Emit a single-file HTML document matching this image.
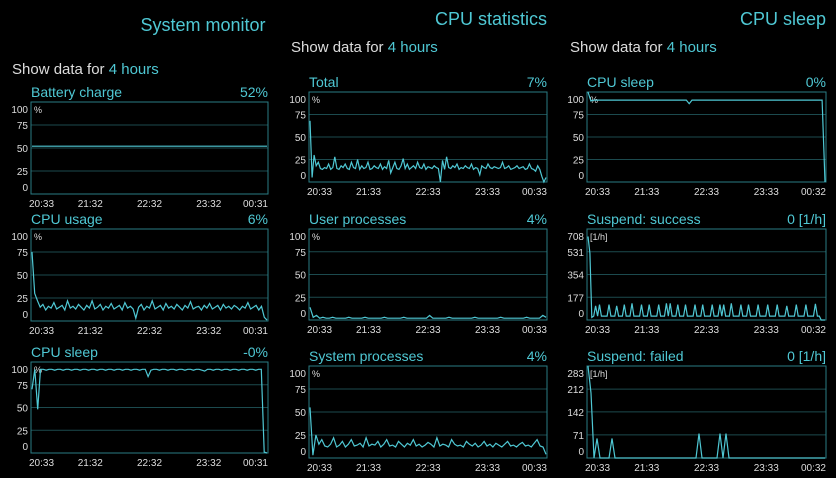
<!DOCTYPE html>
<html><head><meta charset="utf-8"><style>
body{margin:0;background:#000;width:836px;height:478px;overflow:hidden;font-family:"Liberation Sans","DejaVu Sans",sans-serif}
svg{display:block}
</style></head><body>
<svg id="root" width="836" height="478"></svg>
<script>
const cpuUsage=[75,30,22,15,18,12,16,14,20,13,15,17,12,22,14,16,13,18,15,12,17,14,22,13,15,18,12,16,14,19,13,15,17,12,20,14,16,13,3,15,18,12,16,14,22,13,15,17,12,19,14,16,13,18,15,12,17,14,21,13,15,16,12,17,14,19,13,15,17,12,18,14,16,13,17,15,12,16,14,20,13,15,17,12,16,4,1];
const cpuSleep1=[70,92,48,92,92,91,92,92,91,92,92,91,92,92,91,92,92,91,92,92,91,92,92,91,92,92,91,92,92,91,92,92,91,92,92,91,92,92,91,92,92,84,91,92,92,91,92,92,91,92,92,91,92,92,91,92,92,91,92,92,91,90,92,92,91,92,92,91,92,92,91,92,92,91,92,92,91,92,92,91,92,92,1,0];
const battery=[52,52,52,52,52,52,52,52,52,52];
const total=[68,5,30,18,22,15,14,16,15,20,14,16,28,15,14,18,16,20,15,14,22,16,15,25,14,18,15,16,22,14,15,18,16,15,20,14,17,15,24,10,16,22,15,14,18,26,15,20,14,16,18,15,22,16,15,20,14,17,16,15,18,16,15,0,24,14,28,16,15,18,16,20,14,16,15,18,16,15,20,14,16,15,8,18,16,15,20,16,15,17,16,15,16,22,15,16,18,14,15,16,18,15,16,17,14,15,20,15,14,12,18,14,6,0,5];
const userProc=[14,3,5,2,3,2,2,3,2,2,2,2,3,2,2,2,2,3,2,2,2,2,2,3,2,2,2,2,2,3,2,2,2,2,2,2,2,5,2,2,2,2,2,3,2,2,2,2,2,2,2,3,2,2,2,2,2,2,2,3,2,2,2,2,2,2,2,3,2,2,2,2,5,3];
const sysProc=[55,3,25,15,20,13,12,15,22,12,14,18,12,15,20,13,14,16,12,22,13,15,14,18,12,15,20,13,14,12,18,15,12,16,14,20,13,15,12,14,17,15,12,22,13,15,14,12,20,15,13,14,12,18,15,13,16,12,14,18,13,15,12,16,14,12,15,18,13,14,12,15,17,13,14,12,16,20,13,12,4];
const cpuSleep3=[100,90,91,91,91,91,91,91,91,91,91,91,91,91,91,91,91,91,91,91,91,91,91,91,91,91,91,91,91,91,91,91,91,91,91,87,91,91,91,91,91,91,91,91,91,91,91,91,91,91,91,91,91,91,91,91,91,91,91,91,91,91,91,91,91,91,91,91,91,91,91,91,91,91,91,91,91,91,91,91,91,91,0];
const suspOk=[650,520,20,30,110,30,120,30,30,30,30,120,30,30,30,110,30,30,30,120,30,30,30,130,30,30,30,30,120,30,30,30,120,30,30,30,30,120,30,30,30,130,30,130,30,30,30,120,30,30,30,120,30,30,30,30,120,30,30,30,120,30,30,30,30,120,30,30,30,120,30,120,30,30,30,130,30,30,30,30,120,30,30,30,120,30,30,30,30,120,30,30,30,30,120,30,30,30,30,120,30,30,30,30,110,30,30,30,30,120,30,30,30,30,120,30,30,30,30,125,30,30,0,0,0];
const suspFail=[283,200,0,60,0,0,0,0,60,0,0,0,0,0,0,0,0,0,0,0,0,0,0,0,0,0,0,0,0,0,0,0,0,0,0,0,0,75,0,0,0,0,0,0,75,0,75,0,0,0,0,0,0,0,0,0,0,0,0,0,0,0,0,0,0,0,0,0,0,0,0,0,0,0,0,0,0,0,0,0];
const pctTicks=[100,75,50,25,0];
const okTicks=[708,531,354,177,0];
const failTicks=[283,212,142,71,0];
const x1=["20:33","21:32","22:32","23:32","00:31"];
const x2=["20:33","21:33","22:33","23:33","00:33"];
const x3=["20:33","21:33","22:33","23:33","00:32"];

const NS="http://www.w3.org/2000/svg";
const root=document.getElementById('root');
const CY="#4fc8d4";
function mk(tag,attrs,parent,txt){const e=document.createElementNS(NS,tag);for(const k in attrs)e.setAttribute(k,attrs[k]);if(txt!==undefined)e.textContent=txt;(parent||root).appendChild(e);return e;}
function txt(x,y,s,size,fill,anchor,name){const t=mk('text',{x:x,y:y,'font-size':size,fill:fill,'text-anchor':anchor||'start'},root,s);

return t;}

function chart(name,title,value,x0,x1p,top,bot,data,ticks,xl,unit){
  const g=mk('g',{});
  
  
  const max=ticks[0];
  const ys=v=>bot-(v/max)*(bot-top);
  const xs=i=>x0+1+i*(x1p-x0-2)/(data.length-1);
  const tt=mk('text',{x:x0,y:top-5,'font-size':14,fill:CY},g,title);
  
  
  const tv=mk('text',{x:x1p,y:top-5,'font-size':14,fill:CY,'text-anchor':'end'},g,value);
  
  
  ticks.forEach((t,i)=>{
    if(i>0&&i<ticks.length-1){const l=mk('line',{x1:x0,x2:x1p,y1:ys(t),y2:ys(t),stroke:'#1c4a4e','stroke-width':1},g);
      
      }
    const ly=i==0?top+11:(i==ticks.length-1?bot-3:ys(t)+4);
    const tl=mk('text',{x:x0-3,y:ly,'font-size':10,fill:'#ddd','text-anchor':'end'},g,String(t));
    
    
  });
  const bx=mk('rect',{x:x0,y:top,width:x1p-x0,height:bot-top,fill:'none',stroke:'#2a7c84','stroke-width':1},g);
  
  
  const u=mk('text',{x:x0+3,y:top+11,'font-size':9,fill:'#ddd'},g,unit);
  
  
  const pts=data.map((v,i)=>xs(i).toFixed(1)+','+ys(v).toFixed(1)).join(' ');
  const pl=mk('polyline',{points:pts,fill:'none',stroke:CY,'stroke-width':1.2},g);
  
  
  xl.forEach((s,i)=>{
    const xx=x0+i*(x1p-x0)/(xl.length-1);
    const a=i==0?'start':(i==xl.length-1?'end':'middle');
    const t=mk('text',{x:i==0?x0-2:xx,y:bot+13,'font-size':10,fill:'#ddd','text-anchor':a},g,s);
    
    
  });
}
txt(203,31,'System monitor',18,CY,'middle','system-monitor-heading');
txt(491,25,'CPU statistics',18,CY,'middle','cpu-statistics-heading');
txt(783,25,'CPU sleep',18,CY,'middle','cpu-sleep-heading');
function showData(x,y,n){const t=mk('text',{x:x,y:y,'font-size':15,fill:'#ddd'},root);


mk('tspan',{},t,'Show data for ');mk('tspan',{fill:CY},t,'4 hours');}
showData(12,74,'show-data-selector-1');
showData(291,52,'show-data-selector-2');
showData(570,52,'show-data-selector-3');

chart('battery-charge-chart','Battery charge','52%',31,268,102,194,battery,pctTicks,x1,'%');
chart('cpu-usage-chart','CPU usage','6%',31,268,229,321,cpuUsage,pctTicks,x1,'%');
chart('cpu-sleep-chart-1','CPU sleep','-0%',31,268,362,453,cpuSleep1,pctTicks,x1,'%');
chart('total-chart','Total','7%',309,547,92,182,total,pctTicks,x2,'%');
chart('user-processes-chart','User processes','4%',309,547,229,320,userProc,pctTicks,x2,'%');
chart('system-processes-chart','System processes','4%',309,547,366,458,sysProc,pctTicks,x2,'%');
chart('cpu-sleep-chart-2','CPU sleep','0%',587,826,92,182,cpuSleep3,pctTicks,x3,'%');
chart('suspend-success-chart','Suspend: success','0 [1/h]',587,826,229,320,suspOk,okTicks,x3,'[1/h]');
chart('suspend-failed-chart','Suspend: failed','0 [1/h]',587,826,366,458,suspFail,failTicks,x3,'[1/h]');
</script>
</body></html>
